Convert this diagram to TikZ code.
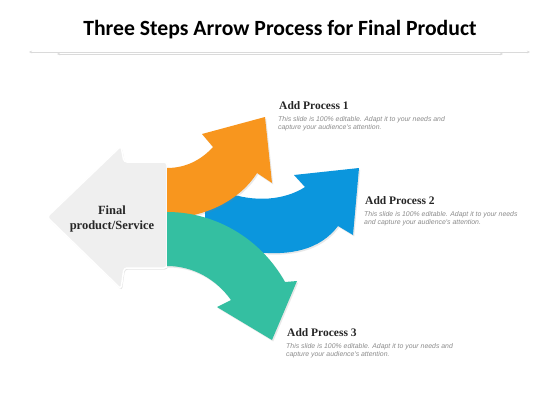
\documentclass[tikz,border=0pt]{standalone}
\usepackage{fontspec}
\setmainfont{Liberation Serif}
\newfontfamily\titlefont{Carlito}
\newfontfamily\bodyfont{Liberation Sans}
\usetikzlibrary{shadows,arrows.meta}
\definecolor{orangeA}{HTML}{F8961E}
\definecolor{blueA}{HTML}{0B96DD}
\definecolor{greenA}{HTML}{34BFA1}
\definecolor{greyA}{HTML}{EFEFEF}
\definecolor{headC}{HTML}{262626}
\definecolor{bodyC}{HTML}{8C8C8C}
\definecolor{ruleC}{HTML}{DADADA}
\tikzset{
  band/.style={draw=none, drop shadow={shadow xshift=1.2pt, shadow yshift=-1.5pt, opacity=0.18}},
  headtxt/.style={anchor=west, inner sep=0pt, text=headC, font=\fontsize{11.5}{13}\selectfont\bfseries},
  bodytxt/.style={anchor=north west, inner sep=0pt, text=bodyC, align=left, font=\bodyfont\itshape\fontsize{6.9}{8.4}\selectfont},
  rulel/.style={draw=ruleC, line width=0.6pt, {Stealth[length=3pt,width=2.5pt]}-{Stealth[length=3pt,width=2.5pt]}}
}
\begin{document}
\begin{tikzpicture}[x=1pt,y=-1pt]
\useasboundingbox[fill=white] (0,0) rectangle (560,420);
% title
\node[inner sep=0pt, anchor=base, font=\titlefont\bfseries\fontsize{21.7}{24}\selectfont] (title) at (280,36) {Three Steps Arrow Process for Final Product};
\coordinate (r1a) at (29,52); \coordinate (r1b) at (530,52);
\coordinate (r2a) at (57,54); \coordinate (r2b) at (503,54);
\draw[rulel] (r1a) -- (r1b);
\draw[rulel] (r2a) -- (r2b);
% grey arrow
\draw[fill=greyA, draw=white, line width=1.5pt, rounded corners=3pt,
  drop shadow={shadow xshift=1pt, shadow yshift=-1.5pt, opacity=0.2}]
  (47,217) -- (121,146) -- (124,162) -- (167,162) -- (167,268) -- (124,268) -- (121,289) -- cycle;
% blue arrow
\fill[blueA, band] (205,198) -- (225,192) .. controls (255,203) and (285,200) .. (305,187)
  -- (294,175) -- (359,168) -- (353,235) -- (338,226)
  .. controls (320,250) and (290,256) .. (255,252) -- (205,242) -- cycle;
% orange arrow
\fill[orangeA, band] (167,168) .. controls (188,168) and (203,158) .. (213,147)
  -- (202,134) -- (265,117) -- (272,183) -- (257,173)
  .. controls (240,200) and (205,218) .. (167,218) -- cycle;
% green arrow
\fill[greenA, band] (167,212) .. controls (216,212) and (261,239) .. (285,282)
  -- (297,281) -- (272,340) -- (217,307) -- (231,300)
  .. controls (216,279) and (193,266) .. (167,266) -- cycle;
% centre text
\node[align=center, inner sep=0pt, text=headC, font=\fontsize{12.5}{15}\selectfont\bfseries] (final) at (112,219) {Final\\product/Service};
% labels
\node[headtxt] (h1) at (279,106) {Add Process 1};
\node[bodytxt] (b1) at (278,116) {This slide is 100\% editable. Adapt it to your needs and\\capture your audience's attention.};
\node[headtxt] (h2) at (365,201) {Add Process 2};
\node[bodytxt] (b2) at (364,211) {This slide is 100\% editable. Adapt it to your needs\\and capture your audience's attention.};
\node[headtxt] (h3) at (287,333) {Add Process 3};
\node[bodytxt] (b3) at (286,343) {This slide is 100\% editable. Adapt it to your needs and\\capture your audience's attention.};
\end{tikzpicture}
\end{document}
